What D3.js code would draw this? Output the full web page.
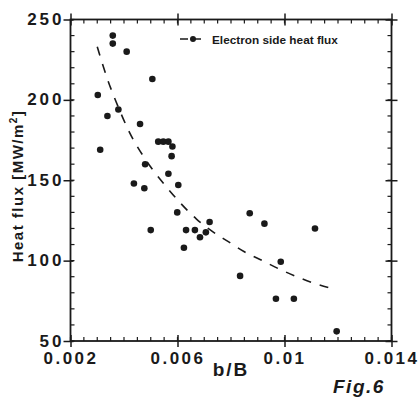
<!DOCTYPE html>
<html>
<head>
<meta charset="utf-8">
<script src="https://cdn.jsdelivr.net/npm/d3@7"></script>
<style>
  html, body { margin: 0; padding: 0; background: #fff; }
  text { font-family: "Liberation Sans", Arial, Helvetica, sans-serif; font-weight: bold; fill: #1a1a1a; }
</style>
</head>
<body>
<svg id="chart" width="420" height="400"></svg>
<script>
// measured points (b/B , heat flux MW/m2)
var bB = [0.00358, 0.00358, 0.00410, 0.00506, 0.00302, 0.00379, 0.00338, 0.00460,
          0.00528, 0.00547, 0.00566, 0.00581, 0.00311, 0.00578, 0.00479, 0.00566,
          0.00437, 0.00603, 0.00476, 0.00599, 0.00500, 0.00632, 0.00665, 0.00624,
          0.00684, 0.00706, 0.00720, 0.00870, 0.00925, 0.01114, 0.00834, 0.00986,
          0.00968, 0.01035, 0.01195];
var flux = [240, 235, 230, 213, 203, 194, 190, 185,
            174, 174, 174, 171, 169, 165, 160, 154,
            148, 147, 145, 130, 119, 119, 119, 108,
            114.5, 117.6, 124, 129.5, 123, 120, 90.5, 99.3,
            76.3, 76.3, 56];

// dashed curve "Electron side heat flux"
var curveX = [0.0030, 0.0034, 0.0037, 0.0042, 0.0048, 0.0056, 0.0061, 0.0067,
              0.0073, 0.0079, 0.0085, 0.0092, 0.0098, 0.0104, 0.0110, 0.0118];
var curveY = [233, 212, 199, 180, 163, 145.6, 136, 126,
              118.2, 111.8, 105.5, 99.8, 94.8, 90.4, 86.5, 82.5];

var xTicks = [0.002, 0.006, 0.01, 0.014],
    xTickLabels = ["0.002", "0.006", "0.01", "0.014"],
    yTicks = [50, 100, 150, 200, 250],
    yTickLabels = ["50", "100", "150", "200", "250"];

var legendLabel = "Electron side heat flux",
    xTitle = "b/B",
    figLabel = "Fig.6";

(function() {
  var left = 70.5, right = 391.5, top = 19.5, bottom = 341,
      ink = "#1a1a1a";

  var svg = d3.select("#chart");

  var x = d3.scaleLinear().domain([0.002, 0.014]).range([left, right]);
  var y = d3.scaleLinear().domain([50, 250]).range([bottom, top]);

  // frame
  svg.append("rect")
    .attr("x", left).attr("y", top)
    .attr("width", right - left).attr("height", bottom - top)
    .attr("fill", "none").attr("stroke", ink).attr("stroke-width", 1.8);

  // minor ticks (inward) on all four sides
  var xMinor = x.ticks(24), yMinor = y.ticks(20);
  var minor = svg.append("g").attr("stroke", ink).attr("stroke-width", 1.2);
  xMinor.forEach(function(v) {
    minor.append("line").attr("x1", x(v)).attr("x2", x(v)).attr("y1", bottom).attr("y2", bottom - 4);
    minor.append("line").attr("x1", x(v)).attr("x2", x(v)).attr("y1", top).attr("y2", top + 4);
  });
  yMinor.forEach(function(v) {
    minor.append("line").attr("y1", y(v)).attr("y2", y(v)).attr("x1", left).attr("x2", left + 4);
    minor.append("line").attr("y1", y(v)).attr("y2", y(v)).attr("x1", right).attr("x2", right - 4);
  });

  // major axes
  var xAxis = svg.append("g").attr("transform", "translate(0," + bottom + ")")
    .call(d3.axisBottom(x).tickValues(xTicks).tickSize(6)
      .tickFormat(function(d, i) { return xTickLabels[i]; }));
  xAxis.select(".domain").remove();
  xAxis.selectAll(".tick line").attr("y1", -6).attr("y2", 6).attr("stroke", ink).attr("stroke-width", 1.5);
  xAxis.selectAll(".tick text").attr("y", 11).attr("dy", "0.71em")
    .style("font-size", "17px").style("letter-spacing", "2.5px").attr("fill", ink).attr("font-family", null);

  var xTop = svg.append("g").attr("transform", "translate(0," + top + ")")
    .call(d3.axisTop(x).tickValues(xTicks).tickSize(6).tickFormat(""));
  xTop.select(".domain").remove();
  xTop.selectAll(".tick line").attr("y1", -6).attr("y2", 6).attr("stroke", ink).attr("stroke-width", 1.5);

  var yAxis = svg.append("g").attr("transform", "translate(" + left + ",0)")
    .call(d3.axisLeft(y).tickValues(yTicks).tickSize(7)
      .tickFormat(function(d, i) { return yTickLabels[i]; }));
  yAxis.select(".domain").remove();
  yAxis.selectAll(".tick line").attr("x1", -7).attr("x2", 3).attr("stroke", ink).attr("stroke-width", 1.5);
  yAxis.selectAll(".tick text").attr("x", -6).attr("dy", "0.3em")
    .style("font-size", "17px").style("letter-spacing", "3px").attr("fill", ink).attr("font-family", null);

  var yRight = svg.append("g").attr("transform", "translate(" + right + ",0)")
    .call(d3.axisRight(y).tickValues(yTicks).tickSize(6).tickFormat(""));
  yRight.select(".domain").remove();
  yRight.selectAll(".tick line").attr("x1", -6).attr("x2", 6).attr("stroke", ink).attr("stroke-width", 1.5);

  // dashed fit curve
  var line = d3.line()
    .x(function(d) { return x(d[0]); })
    .y(function(d) { return y(d[1]); })
    .curve(d3.curveMonotoneX);
  svg.append("path")
    .datum(d3.zip(curveX, curveY))
    .attr("d", line)
    .attr("fill", "none").attr("stroke", ink)
    .attr("stroke-width", 1.6).attr("stroke-dasharray", "9,9");

  // data points
  svg.append("g").selectAll("circle")
    .data(d3.zip(bB, flux))
    .enter().append("circle")
      .attr("cx", function(d) { return x(d[0]); })
      .attr("cy", function(d) { return y(d[1]); })
      .attr("r", 3.3)
      .attr("fill", ink);

  // legend
  var lg = svg.append("g");
  lg.append("line").attr("x1", 180).attr("x2", 204).attr("y1", 39).attr("y2", 39)
    .attr("stroke", ink).attr("stroke-width", 1.5).attr("stroke-dasharray", "8,5");
  lg.append("circle").attr("cx", 193).attr("cy", 39).attr("r", 3).attr("fill", ink);
  lg.append("text").attr("x", 212).attr("y", 43.5)
    .style("font-size", "11.8px")
    .text(legendLabel);

  // axis titles
  svg.append("text")
    .attr("x", (left + right) / 2).attr("y", 376)
    .attr("text-anchor", "middle")
    .style("font-size", "19px").style("letter-spacing", "2px")
    .text(xTitle);

  var yt = svg.append("text")
    .attr("transform", "translate(23," + 186 + ") rotate(-90)")
    .attr("text-anchor", "middle")
    .style("font-size", "15px").style("letter-spacing", "1.5px");
  yt.append("tspan").text("Heat flux [MW/m");
  yt.append("tspan").attr("dy", -6).style("font-size", "10px").text("2");
  yt.append("tspan").attr("dy", 6).text("]");

  svg.append("text")
    .attr("x", 333).attr("y", 393)
    .style("font-size", "19px").style("font-style", "italic").style("letter-spacing", "1.5px")
    .text(figLabel);
})();
</script>
</body>
</html>
